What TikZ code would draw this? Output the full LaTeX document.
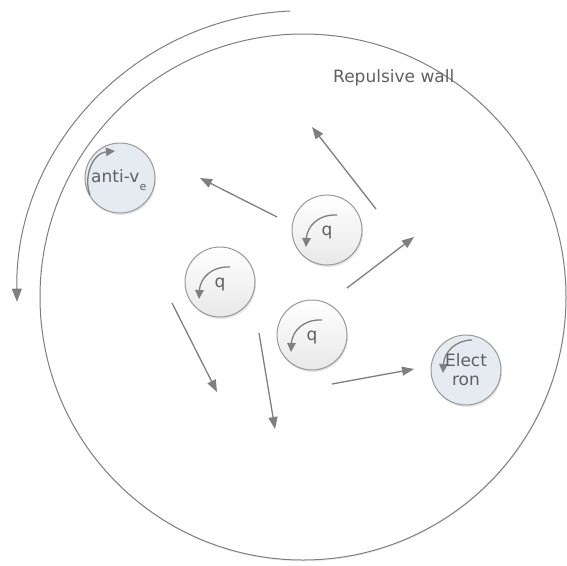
\documentclass[tikz,border=0pt]{standalone}
\usepackage{fontspec}
\setmainfont{DejaVu Sans}
\usetikzlibrary{arrows.meta,shadows,calc}
\definecolor{linegray}{HTML}{7F7F7F}
\definecolor{txtgray}{HTML}{606060}
\definecolor{bluefill}{HTML}{E6EBF2}
\definecolor{rimgray}{HTML}{999999}
\begin{document}
\begin{tikzpicture}[x=1pt,y=-1pt,
  wallstyle/.style={circle,draw=linegray,fill=white,line width=1pt,minimum size=526pt,inner sep=0pt,
    drop shadow={opacity=0.12,shadow xshift=0.5pt,shadow yshift=-1.5pt}},
  particle/.style={circle,draw=rimgray,line width=1pt,minimum size=70pt,inner sep=0pt,
    drop shadow={opacity=0.2,shadow xshift=1pt,shadow yshift=-2pt}},
  quark/.style={particle,top color=white,bottom color=black!9},
  lepton/.style={particle,fill=bluefill},
  txt/.style={inner sep=0pt,text=txtgray,font=\fontsize{17pt}{19pt}\selectfont},
  motion/.style={draw=linegray,line width=1.3pt,-{Triangle[length=12pt,width=9pt]}},
  spinarrow/.style={draw=linegray,line width=1.3pt,-{Triangle[length=9pt,width=8.5pt]}},
  wallarrow/.style={draw=linegray,line width=1pt,-{Triangle[length=13pt,width=10pt]}}]
\useasboundingbox (0,0) rectangle (567,565);
\fill[white] (0,0) rectangle (567,565);

% repulsive wall
\node[wallstyle] (wall) at (303,297) {};
\node[txt,anchor=base west] (walllabel) at (333,82) {Repulsive wall};

% rotation of the wall
\coordinate (arcstart) at (290,11);
\draw[wallarrow] (arcstart) arc[start angle=267.4,end angle=179,radius=286];

% particles
\node[lepton] (av) at (120,178) {};
\node[quark] (q1) at (327,230) {};
\node[quark] (q2) at (220,282) {};
\node[quark] (q3) at (312,335) {};
\node[lepton] (el) at (466,370) {};

% spin arrows
\foreach \q in {q1,q2,q3}{
  \begin{scope}[shift={(\q.center)}]
    \draw[spinarrow] (10,-15) .. controls (-8,-16) and (-20,-4) .. (-21,17);
  \end{scope}
}
\begin{scope}[shift={(av.center)}]
  \draw[spinarrow] (-30,17) .. controls (-37,-2) and (-27,-25) .. (-5,-27);
\end{scope}
\begin{scope}[shift={(el.center)}]
  \draw[spinarrow] (6,-30) .. controls (-10,-30) and (-22,-18) .. (-23,3);
\end{scope}

% labels
\node[txt,anchor=base west] (avt) at (91,182) {anti-v\raisebox{-8pt}{\fontsize{11pt}{11pt}\selectfont e}};
\node[txt,anchor=base] (q1t) at ($(q1)+(0,5)$) {q};
\node[txt,anchor=base] (q2t) at ($(q2)+(0,5)$) {q};
\node[txt,anchor=base] (q3t) at ($(q3)+(0,5)$) {q};
\node[txt,anchor=base] (elt1) at (466,366) {Elect};
\node[txt,anchor=base] (elt2) at (466,385) {ron};

% motion arrows
\coordinate (m1s) at (277,217); \coordinate (m1e) at (200,178);
\coordinate (m2s) at (376,209); \coordinate (m2e) at (312,127);
\coordinate (m3s) at (347,288); \coordinate (m3e) at (414,237);
\coordinate (m4s) at (172,303); \coordinate (m4e) at (217,392);
\coordinate (m5s) at (259,333); \coordinate (m5e) at (275,429);
\coordinate (m6s) at (332,384); \coordinate (m6e) at (414,369);
\foreach \i in {1,...,6}{
  \draw[motion] (m\i s) -- (m\i e);
}
\end{tikzpicture}
\end{document}
